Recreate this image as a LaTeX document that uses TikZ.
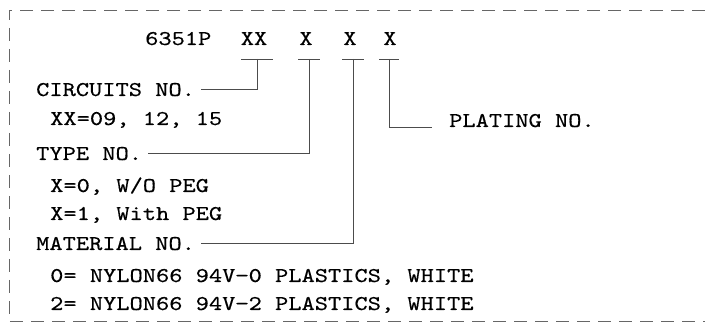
\documentclass[tikz,border=0pt]{standalone}
\usepackage{fontspec}
\newfontfamily\partfont{lmmono10-regular.otf}[FakeStretch=1.2, FakeBold=0.4]
\usetikzlibrary{calc}

\begin{document}
\begin{tikzpicture}[x=1pt,y=-1pt,
    txt/.style={inner sep=0pt, anchor=base west, font=\partfont\fontsize{21}{21}\selectfont},
    lead/.style={draw=black!70, line width=0.8pt},
    frame/.style={draw=black!60, line width=0.8pt, dash pattern=on 13pt off 8pt}
    ]
    \useasboundingbox (0,0) rectangle (705,331);
    %
    %frame
    %
    \draw[frame] (705,10) -- (9,10) -- (9,321) -- (705,321);
    %
    %part number
    %
    \node[txt] (code) at (145,45) {6351P};
    \node[txt, anchor=base] (xx) at (254,45) {XX};
    \node[txt, anchor=base] (xt) at (306,45) {X};
    \node[txt, anchor=base] (xm) at (350,45) {X};
    \node[txt, anchor=base] (xp) at (390,45) {X};
    \coordinate (t1) at (257,59);
    \coordinate (t2) at (309,59);
    \coordinate (t3) at (353,59);
    \coordinate (t4) at (389,59);
    %
    %fields
    %
    \node[txt] (circ) at (36,96) {CIRCUITS NO.};
    \node[txt] (circval) at (50,125) {XX=09, 12, 15};
    \node[txt] (type) at (36,160) {TYPE NO.};
    \node[txt] (type0) at (50,192) {X=0, W/O PEG};
    \node[txt] (type1) at (50,220) {X=1, With PEG};
    \node[txt] (mat) at (36,250) {MATERIAL NO.};
    \node[txt] (mat0) at (50,282) {0= NYLON66 94V−0 PLASTICS, WHITE};
    \node[txt] (mat2) at (50,310) {2= NYLON66 94V−2 PLASTICS, WHITE};
    \node[txt] (plat) at (449,127) {PLATING NO.};
    %
    %leaders
    %
    \draw[lead] ([xshift=-16pt]t1) -- ([xshift=16pt]t1);
    \draw[lead] ([xshift=-11pt]t2) -- ([xshift=11pt]t2);
    \draw[lead] ([xshift=-11pt]t3) -- ([xshift=11pt]t3);
    \draw[lead] ([xshift=-10pt]t4) -- ([xshift=10pt]t4);
    \draw[lead] (t1) |- ([xshift=6pt]circ.east);
    \draw[lead] (t2) |- ([xshift=6pt]type.east);
    \draw[lead] (t3) |- ([xshift=6pt]mat.east);
    \draw[lead] (t4) |- ([xshift=-17pt]plat.base west);
\end{tikzpicture}
\end{document}
